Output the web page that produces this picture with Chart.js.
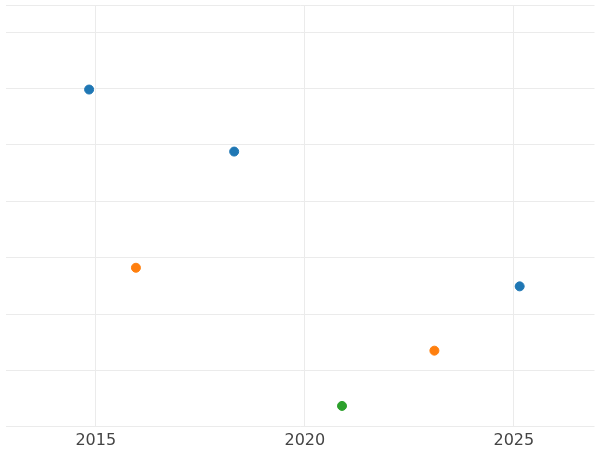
<!DOCTYPE html>
<html>
<head>
<meta charset="utf-8">
<script src="https://cdn.jsdelivr.net/npm/chart.js@4"></script>
<style>
  html, body { margin: 0; padding: 0; background: #fff; }
  #wrap { width: 600px; height: 450px; }
</style>
</head>
<body>
<div id="wrap"><canvas id="chart"></canvas></div>
<script>
const blueX = [2014.84, 2018.31, 2025.14];
const blueY = [5.98, 4.88, 2.49];
const orangeX = [2015.96, 2023.1];
const orangeY = [2.82, 1.35];
const greenX = [2020.89];
const greenY = [0.37];
const xTicks = [2015, 2020, 2025];

const pts = (xs, ys) => xs.map((x, i) => ({ x, y: ys[i] }));
const ds = (xs, ys, color) => ({
  data: pts(xs, ys),
  backgroundColor: color,
  borderColor: color,
  pointRadius: 4.5,
  pointHoverRadius: 4.5
});

new Chart(document.getElementById("chart"), {
  type: "scatter",
  data: {
    datasets: [
      ds(blueX, blueY, "#1f77b4"),
      ds(orangeX, orangeY, "#ff7f0e"),
      ds(greenX, greenY, "#2ca02c")
    ]
  },
  options: {
    responsive: true,
    maintainAspectRatio: false,
    animation: false,
    layout: { padding: { left: -6, right: -6, top: -5, bottom: -4 } },
    plugins: { legend: { display: false }, tooltip: { enabled: false } },
    scales: {
      x: {
        type: "linear",
        min: 2012.84,
        max: 2026.93,
        afterBuildTicks: s => { s.ticks = xTicks.map(v => ({ value: v })); },
        grid: { color: "#ebebeb", drawTicks: false },
        border: { display: false },
        ticks: { color: "#444", font: { family: "DejaVu Sans", size: 16 }, padding: 4, callback: v => String(v) }
      },
      y: {
        min: 0,
        max: 7.47,
        ticks: { display: false, stepSize: 1 },
        grid: { color: "#ebebeb", drawTicks: false },
        border: { display: false }
      }
    }
  }
});
</script>
</body>
</html>
